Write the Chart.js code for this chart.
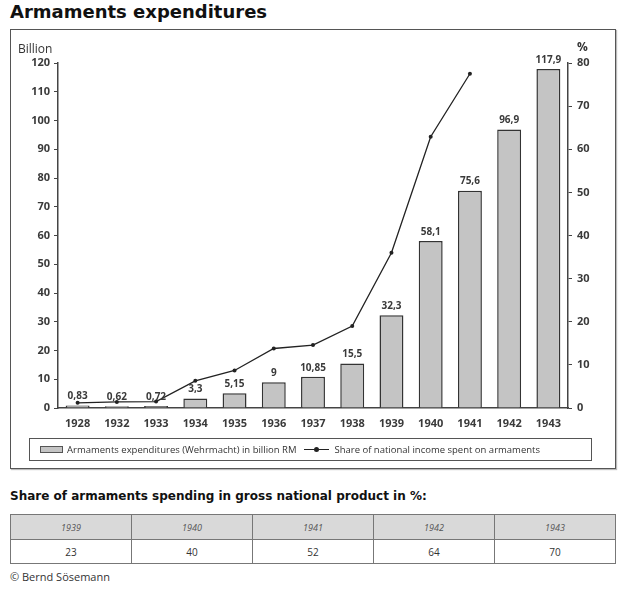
<!DOCTYPE html>
<html>
<head>
<meta charset="utf-8">
<script src="https://cdn.jsdelivr.net/npm/chart.js@4.4.1/dist/chart.umd.min.js"></script>
<style>
  html, body { margin: 0; padding: 0; background: #fff; }
  body { position: relative; width: 624px; height: 591px; overflow: hidden; font-family: "Open Sans", sans-serif; color: #333; }
  #title { position: absolute; left: 10px; top: 0; font: bold 18px "DejaVu Sans", sans-serif; line-height: 24px; color: #111; }
  #frame { position: absolute; left: 10px; top: 29px; width: 604px; height: 438px; border: 1.5px solid #555; box-shadow: 1px 1px 1px #bbb; }
  #wrap { position: absolute; left: 0; top: 0; width: 624px; height: 470px; }
  .unit { position: absolute; font-size: 12px; color: #333; }
  #legend { position: absolute; left: 29px; top: 438px; width: 561px; height: 21px; border: 1px solid #555; display: flex; align-items: center; font-size: 9.5px; color: #333; }
  .sw { display: inline-block; width: 21px; height: 5px; background: #c4c4c4; border: 1px solid #555; margin: 0 4px 0 10px; }
  .ln { display: inline-block; position: relative; width: 25px; height: 1px; background: #222; margin: 0 5px 0 8px; }
  .ln::after { content: ""; position: absolute; left: 10px; top: -2px; width: 5px; height: 5px; border-radius: 50%; background: #222; }
  #subtitle { position: absolute; left: 10px; top: 489px; font: bold 12px "DejaVu Sans", sans-serif; color: #111; }
  #gnp { position: absolute; left: 10px; top: 514px; width: 606px; border-collapse: collapse; }
  #gnp td { border: 1px solid #777; text-align: center; width: 20%; padding: 0; }
  #gnp tr.yr td { height: 24px; background: #d9d9d9; font-style: italic; font-size: 9px; color: #555; }
  #gnp tr.val td { height: 23px; font-size: 10px; color: #333; }
  #credit { position: absolute; left: 10px; top: 569px; font-size: 11px; color: #333; }
</style>
</head>
<body>
<div id="title">Armaments expenditures</div>
<div id="frame"></div>
<div id="wrap"><canvas id="chart"></canvas></div>
<div class="unit" style="left:18px; top:40px;">Billion</div>
<div class="unit" style="left:577px; top:38px; font-weight:bold;">%</div>
<div id="legend">
  <span class="sw"></span><span>Armaments expenditures (Wehrmacht) in billion RM</span>
  <span class="ln"></span><span>Share of national income spent on armaments</span>
</div>
<div id="subtitle">Share of armaments spending in gross national product in %:</div>
<table id="gnp"><tr class="yr"></tr><tr class="val"></tr></table>
<div id="credit">© Bernd Sösemann</div>
<script>
// chart data
const years = ['1928', '1932', '1933', '1934', '1935', '1936', '1937', '1938', '1939', '1940', '1941', '1942', '1943'];
const spending = [0.83, 0.62, 0.72, 3.3, 5.15, 9, 10.85, 15.5, 32.3, 58.1, 75.6, 96.9, 117.9];
const incomeShare = [1.2, 1.4, 1.5, 6.3, 8.7, 13.8, 14.6, 19.0, 36.0, 62.9, 77.5, null, null];

// table data
const gnpYears = ['1939', '1940', '1941', '1942', '1943'];
const gnpShares = [23, 40, 52, 64, 70];

const yrRow = document.querySelector('#gnp tr.yr');
const valRow = document.querySelector('#gnp tr.val');
gnpYears.forEach((y, i) => {
    yrRow.insertAdjacentHTML('beforeend', '<td>' + y + '</td>');
    valRow.insertAdjacentHTML('beforeend', '<td>' + gnpShares[i] + '</td>');
});

const tickFont = { family: 'Open Sans', size: 11, weight: 'bold' };
const axisColor = '#444';

// values above the bars, with a decimal comma
const barLabels = {
    id: 'barLabels',
    afterDatasetsDraw(chart) {
        const meta = chart.getDatasetMeta(1);
        const ctx = chart.ctx;
        ctx.save();
        ctx.font = 'bold 10px "Open Sans"';
        ctx.fillStyle = '#3a3a3a';
        ctx.textAlign = 'center';
        ctx.textBaseline = 'bottom';
        meta.data.forEach((bar, i) => {
            ctx.fillText(String(spending[i]).replace('.', ','), bar.x, bar.y - 4);
        });
        ctx.restore();
    }
};

new Chart(document.getElementById('chart'), {
    type: 'bar',
    data: {
        labels: years,
        datasets: [{
            type: 'line',
            label: 'Share of national income spent on armaments',
            data: incomeShare,
            yAxisID: 'y1',
            borderColor: '#222',
            backgroundColor: '#222',
            borderWidth: 1.3,
            pointRadius: 2,
            pointBorderWidth: 0,
            tension: 0,
            spanGaps: false
        }, {
            label: 'Armaments expenditures (Wehrmacht) in billion RM',
            data: spending,
            yAxisID: 'y',
            backgroundColor: '#c4c4c4',
            borderColor: '#333',
            borderWidth: 1.5,
            categoryPercentage: 1,
            barPercentage: 0.61
        }]
    },
    options: {
        responsive: true,
        maintainAspectRatio: false,
        animation: false,
        layout: { padding: { top: 63, left: 0, right: 0, bottom: 0 } },
        plugins: {
            legend: { display: false },
            tooltip: { enabled: false }
        },
        scales: {
            x: {
                afterFit: s => { s.height = 62; },
                grid: { display: false, drawTicks: false },
                border: { display: true, color: axisColor, width: 1.5 },
                ticks: { color: '#3a3a3a', font: tickFont, padding: 9, maxRotation: 0 }
            },
            y: {
                position: 'left',
                min: 0,
                max: 120,
                afterFit: s => { s.width = 58; },
                grid: { drawOnChartArea: false, drawTicks: true, tickLength: 4, color: axisColor },
                border: { display: true, color: axisColor, width: 1.5 },
                ticks: { stepSize: 10, color: '#3a3a3a', font: tickFont, padding: 4 }
            },
            y1: {
                position: 'right',
                min: 0,
                max: 80,
                afterFit: s => { s.width = 56; },
                grid: { drawOnChartArea: false, drawTicks: true, tickLength: 4, color: axisColor },
                border: { display: true, color: axisColor, width: 1.5 },
                ticks: { stepSize: 10, color: '#3a3a3a', font: tickFont, padding: 5 }
            }
        }
    },
    plugins: [barLabels]
});
</script>
</body>
</html>
